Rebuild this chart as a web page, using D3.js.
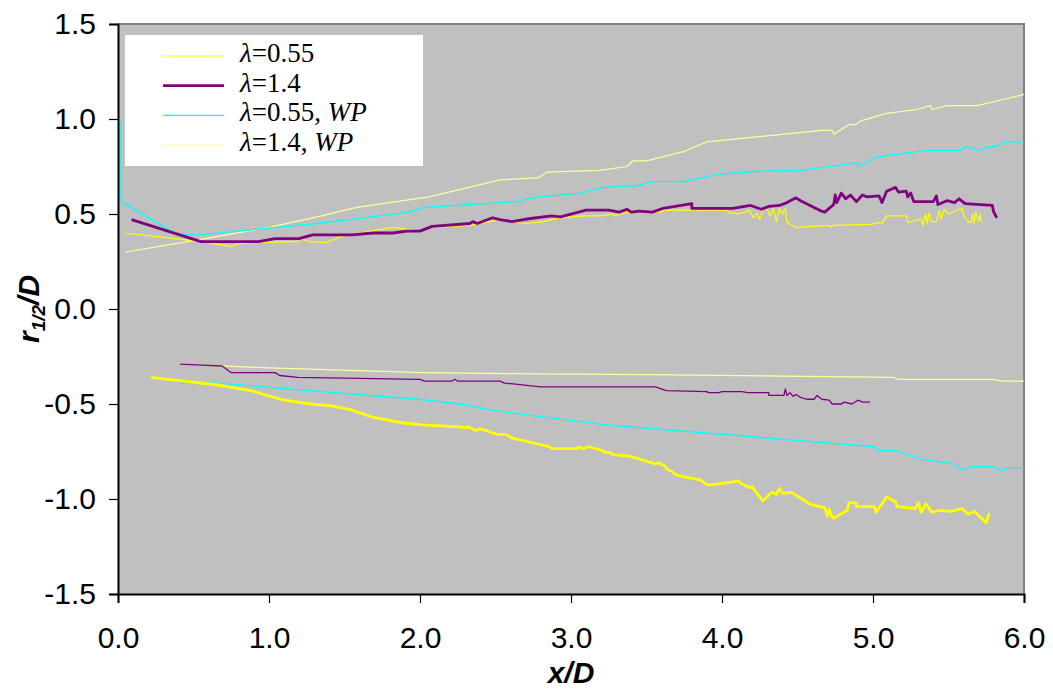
<!DOCTYPE html>
<html>
<head>
<meta charset="utf-8">
<script src="https://cdn.jsdelivr.net/npm/d3@7"></script>
<style>
body { margin: 0; background: #fff; }
</style>
</head>
<body>
<div id="chart"></div>
<script>
// tick labels
var xTicks = [0, 1, 2, 3, 4, 5, 6];
var yTicks = [-1.5, -1.0, -0.5, 0.0, 0.5, 1.0, 1.5];

// lambda = 0.55 (pale yellow)
var lam055Up = [[0.05,0.30],[0.5,0.36],[1.0,0.43],[1.32,0.485],[1.58,0.535],[2.06,0.59],[2.53,0.68],[2.78,0.69],[2.84,0.72],[3.19,0.73],[3.37,0.75],[3.41,0.78],[3.50,0.78],[3.75,0.83],[3.90,0.88],[4.66,0.94],[4.73,0.94],[4.74,0.92],[4.84,0.97],[4.88,0.97],[4.92,0.99],[5.09,1.03],[5.29,1.05],[5.38,1.07],[5.39,1.05],[5.49,1.07],[5.69,1.07],[5.85,1.10],[6.0,1.13]];
var lam055Lo = [[0.41,-0.29],[1.0,-0.31],[2.02,-0.335],[2.59,-0.34],[3.5,-0.345],[5.14,-0.36],[5.16,-0.37],[5.79,-0.37],[5.85,-0.38],[6.0,-0.38]];

// lambda = 1.4 (purple)
var lam14Up = [[0.09,0.47],[0.55,0.355],[0.93,0.355],[1.04,0.37],[1.20,0.37],[1.24,0.38],[1.29,0.39],[1.55,0.39],[1.69,0.40],[1.82,0.40],[1.91,0.41],[2.0,0.41],[2.08,0.435],[2.33,0.45],[2.35,0.46],[2.38,0.45],[2.48,0.48],[2.53,0.47],[2.61,0.46],[2.72,0.475],[2.87,0.49],[2.93,0.485],[3.10,0.52],[3.25,0.52],[3.32,0.51],[3.37,0.525],[3.40,0.51],[3.45,0.515],[3.54,0.51],[3.61,0.53],[3.80,0.555],[3.80,0.53],[4.07,0.53],[4.19,0.545],[4.26,0.525],[4.31,0.54],[4.38,0.545],[4.43,0.56],[4.49,0.585],[4.52,0.57],[4.66,0.515],[4.68,0.51],[4.74,0.55],[4.75,0.60],[4.76,0.56],[4.79,0.61],[4.82,0.58],[4.85,0.60],[4.89,0.565],[4.93,0.60],[4.96,0.59],[5.04,0.595],[5.06,0.56],[5.09,0.62],[5.15,0.64],[5.17,0.615],[5.22,0.62],[5.23,0.59],[5.25,0.61],[5.27,0.565],[5.40,0.565],[5.42,0.595],[5.43,0.55],[5.49,0.57],[5.54,0.56],[5.57,0.58],[5.61,0.555],[5.79,0.545],[5.80,0.51],[5.82,0.48]];
var lam14Lo = [[0.41,-0.29],[0.69,-0.30],[0.75,-0.335],[1.04,-0.335],[1.07,-0.35],[1.19,-0.36],[2.0,-0.37],[2.03,-0.38],[2.21,-0.38],[2.23,-0.37],[2.25,-0.38],[2.53,-0.38],[2.56,-0.39],[2.80,-0.41],[3.56,-0.41],[3.63,-0.43],[3.90,-0.435],[3.91,-0.44],[3.98,-0.44],[4.0,-0.435],[4.13,-0.435],[4.17,-0.44],[4.31,-0.44],[4.31,-0.455],[4.41,-0.455],[4.42,-0.42],[4.43,-0.455],[4.45,-0.44],[4.47,-0.46],[4.49,-0.45],[4.52,-0.465],[4.56,-0.475],[4.61,-0.475],[4.63,-0.455],[4.66,-0.475],[4.71,-0.48],[4.73,-0.50],[4.79,-0.50],[4.81,-0.49],[4.86,-0.50],[4.90,-0.48],[4.93,-0.49],[4.98,-0.49]];

// lambda = 0.55, WP (cyan)
var lam055WpUp = [[0.02,0.99],[0.02,0.565],[0.40,0.39],[0.53,0.39],[1.05,0.43],[1.32,0.45],[1.93,0.51],[2.03,0.535],[2.53,0.56],[2.63,0.565],[2.79,0.59],[3.06,0.61],[3.21,0.64],[3.44,0.65],[3.54,0.67],[3.74,0.67],[3.98,0.71],[4.23,0.725],[4.53,0.73],[4.89,0.77],[4.91,0.75],[5.02,0.80],[5.35,0.835],[5.58,0.835],[5.61,0.855],[5.70,0.835],[5.77,0.855],[5.81,0.855],[5.88,0.88],[6.0,0.88]];
var lam055WpLo = [[0.41,-0.39],[0.66,-0.39],[1.98,-0.475],[2.04,-0.48],[2.26,-0.50],[2.46,-0.53],[2.59,-0.545],[3.23,-0.61],[5.01,-0.725],[5.04,-0.745],[5.15,-0.745],[5.32,-0.79],[5.54,-0.815],[5.60,-0.85],[5.65,-0.83],[5.79,-0.83],[5.85,-0.85],[5.89,-0.835],[6.0,-0.835]];

// lambda = 1.4, WP (yellow)
var lam14WpUp = [[0.05,0.40],[0.55,0.355],[0.75,0.33],[0.81,0.345],[0.93,0.35],[1.19,0.355],[1.22,0.37],[1.26,0.355],[1.38,0.35],[1.49,0.385],[1.82,0.43],[2.0,0.41],[2.06,0.43],[2.33,0.44],[2.53,0.47],[2.61,0.46],[2.70,0.45],[2.82,0.46],[2.92,0.48],[3.08,0.49],[3.20,0.49],[3.27,0.50],[3.29,0.49],[3.37,0.51],[3.58,0.51],[3.63,0.52],[4.03,0.52],[4.05,0.505],[4.09,0.505],[4.10,0.50],[4.13,0.505],[4.18,0.52],[4.21,0.48],[4.23,0.505],[4.25,0.47],[4.27,0.525],[4.30,0.525],[4.32,0.49],[4.34,0.53],[4.36,0.46],[4.38,0.53],[4.40,0.50],[4.42,0.53],[4.43,0.455],[4.49,0.43],[4.71,0.44],[4.72,0.43],[4.74,0.44],[4.99,0.445],[5.04,0.455],[5.06,0.45],[5.09,0.49],[5.22,0.49],[5.23,0.455],[5.32,0.475],[5.33,0.44],[5.35,0.50],[5.36,0.45],[5.37,0.505],[5.39,0.46],[5.42,0.46],[5.44,0.52],[5.45,0.47],[5.47,0.525],[5.50,0.50],[5.59,0.53],[5.60,0.49],[5.63,0.46],[5.65,0.455],[5.66,0.50],[5.67,0.45],[5.68,0.51],[5.70,0.46],[5.71,0.50],[5.72,0.455]];
var lam14WpLo = [[0.22,-0.36],[0.66,-0.40],[0.88,-0.43],[1.10,-0.48],[1.28,-0.50],[1.41,-0.51],[1.54,-0.53],[1.69,-0.57],[1.89,-0.60],[2.02,-0.61],[2.25,-0.62],[2.31,-0.625],[2.32,-0.62],[2.37,-0.64],[2.40,-0.63],[2.51,-0.66],[2.57,-0.66],[2.61,-0.68],[2.86,-0.725],[2.87,-0.735],[3.04,-0.735],[3.05,-0.725],[3.08,-0.735],[3.12,-0.725],[3.21,-0.745],[3.22,-0.755],[3.26,-0.755],[3.27,-0.765],[3.39,-0.775],[3.56,-0.815],[3.58,-0.81],[3.62,-0.825],[3.64,-0.845],[3.67,-0.855],[3.70,-0.875],[3.76,-0.885],[3.86,-0.90],[3.90,-0.925],[3.93,-0.925],[4.03,-0.915],[4.11,-0.905],[4.13,-0.92],[4.18,-0.94],[4.20,-0.935],[4.27,-1.01],[4.33,-0.965],[4.36,-0.975],[4.38,-0.945],[4.40,-0.97],[4.46,-0.965],[4.59,-1.03],[4.68,-1.045],[4.70,-1.09],[4.71,-1.055],[4.73,-1.095],[4.74,-1.10],[4.83,-1.06],[4.84,-1.02],[4.89,-1.02],[4.89,-1.04],[5.01,-1.04],[5.02,-1.07],[5.09,-0.99],[5.15,-1.015],[5.16,-1.04],[5.28,-1.05],[5.30,-1.02],[5.32,-1.07],[5.35,-1.025],[5.39,-1.07],[5.44,-1.06],[5.52,-1.065],[5.59,-1.05],[5.63,-1.08],[5.67,-1.065],[5.75,-1.125],[5.76,-1.10],[5.77,-1.075]];

var series = [
    {data: lam055Up,   color: "#ffff99", width: 1.2},
    {data: lam055Lo,   color: "#ffff99", width: 1.2},
    {data: lam055WpUp, color: "#00ffff", width: 1.3},
    {data: lam055WpLo, color: "#00ffff", width: 1.3},
    {data: lam14Lo,    color: "#800080", width: 1.3},
    {data: lam14WpUp,  color: "#ffff00", width: 1.2},
    {data: lam14WpLo,  color: "#ffff00", width: 2.8},
    {data: lam14Up,    color: "#800080", width: 2.8}
];

var legendItems = [
    {name: "=0.55", wp: false, color: "#ffff00", width: 1.2},
    {name: "=1.4", wp: false, color: "#800080", width: 2.8},
    {name: "=0.55, ", wp: true, color: "#00ffff", width: 1.3},
    {name: "=1.4, ", wp: true, color: "#ffff99", width: 1.2}
];

var sans = "'Liberation Sans', Arial, sans-serif";
var serif = "'Liberation Serif', 'Times New Roman', serif";

function init(){
    var w = 1053, h = 689;
    var left = 118, right = 1024, top = 24, bottom = 594;

    var svg = d3.select("#chart").append("svg")
        .attr("width", w)
        .attr("height", h);

    var x = d3.scaleLinear().domain([0, 6]).range([left, right]);
    var y = d3.scaleLinear().domain([-1.5, 1.5]).range([bottom, top]);

    // plot area
    svg.append("rect")
        .attr("x", left).attr("y", top)
        .attr("width", right - left).attr("height", bottom - top)
        .attr("fill", "#c0c0c0");
    svg.append("path")
        .attr("d", "M" + left + "," + top + "H" + right + "V" + bottom)
        .attr("fill", "none")
        .attr("stroke", "#808080")
        .attr("stroke-width", 2);

    var line = d3.line()
        .x(function(d){ return x(d[0]); })
        .y(function(d){ return y(d[1]); });

    svg.selectAll("path.series")
        .data(series)
        .enter()
        .append("path")
        .attr("class", "series")
        .attr("d", function(d){ return line(d.data); })
        .attr("fill", "none")
        .attr("stroke", function(d){ return d.color; })
        .attr("stroke-width", function(d){ return d.width; })
        .attr("stroke-linejoin", "round");

    // axes
    var xAxis = svg.append("g")
        .attr("transform", "translate(0," + bottom + ")")
        .call(d3.axisBottom(x).tickValues(xTicks).tickSize(9).tickPadding(24)
            .tickFormat(function(d){ return d.toFixed(1); }));
    var yAxis = svg.append("g")
        .attr("transform", "translate(" + left + ",0)")
        .call(d3.axisLeft(y).tickValues(yTicks).tickSize(9).tickPadding(13)
            .tickFormat(function(d){ return d.toFixed(1); }));

    [xAxis, yAxis].forEach(function(g){
        g.select(".domain").attr("stroke", "#000").attr("stroke-width", 2);
        g.selectAll(".tick line").attr("stroke", "#000").attr("stroke-width", 1.2);
        g.selectAll(".tick text")
            .style("font-family", sans)
            .style("font-size", "30px")
            .attr("fill", "#000");
    });

    // axis titles
    svg.append("text")
        .attr("x", 571).attr("y", 683)
        .attr("text-anchor", "middle")
        .style("font-family", sans)
        .style("font-size", "30px")
        .style("font-weight", "bold")
        .style("font-style", "italic")
        .text("x/D");

    var yt = svg.append("text")
        .attr("transform", "translate(39,309) rotate(-90)")
        .attr("text-anchor", "middle")
        .style("font-family", sans)
        .style("font-size", "30px")
        .style("font-weight", "bold")
        .style("font-style", "italic");
    yt.append("tspan").text("r");
    yt.append("tspan").style("font-size", "19px").attr("dy", 6).text("1/2");
    yt.append("tspan").attr("dy", -6).text("/D");

    // legend
    var lg = svg.append("g");
    lg.append("rect")
        .attr("x", 125).attr("y", 35)
        .attr("width", 298).attr("height", 131)
        .attr("fill", "#fff");

    var rows = lg.selectAll("g.item")
        .data(legendItems)
        .enter()
        .append("g")
        .attr("class", "item")
        .attr("transform", function(d, i){ return "translate(0," + (56 + i * 29.7) + ")"; });

    rows.append("line")
        .attr("x1", 163).attr("x2", 224)
        .attr("stroke", function(d){ return d.color; })
        .attr("stroke-width", function(d){ return d.width; });

    var t = rows.append("text")
        .attr("x", 240).attr("y", 6)
        .style("font-family", serif)
        .style("font-size", "27px")
        .attr("fill", "#000");
    t.append("tspan").style("font-style", "italic").text("\u03bb");
    t.append("tspan").text(function(d){ return d.name; });
    t.filter(function(d){ return d.wp; })
        .append("tspan").style("font-style", "italic").text("WP");
}

window.onload = init;
</script>
</body>
</html>
